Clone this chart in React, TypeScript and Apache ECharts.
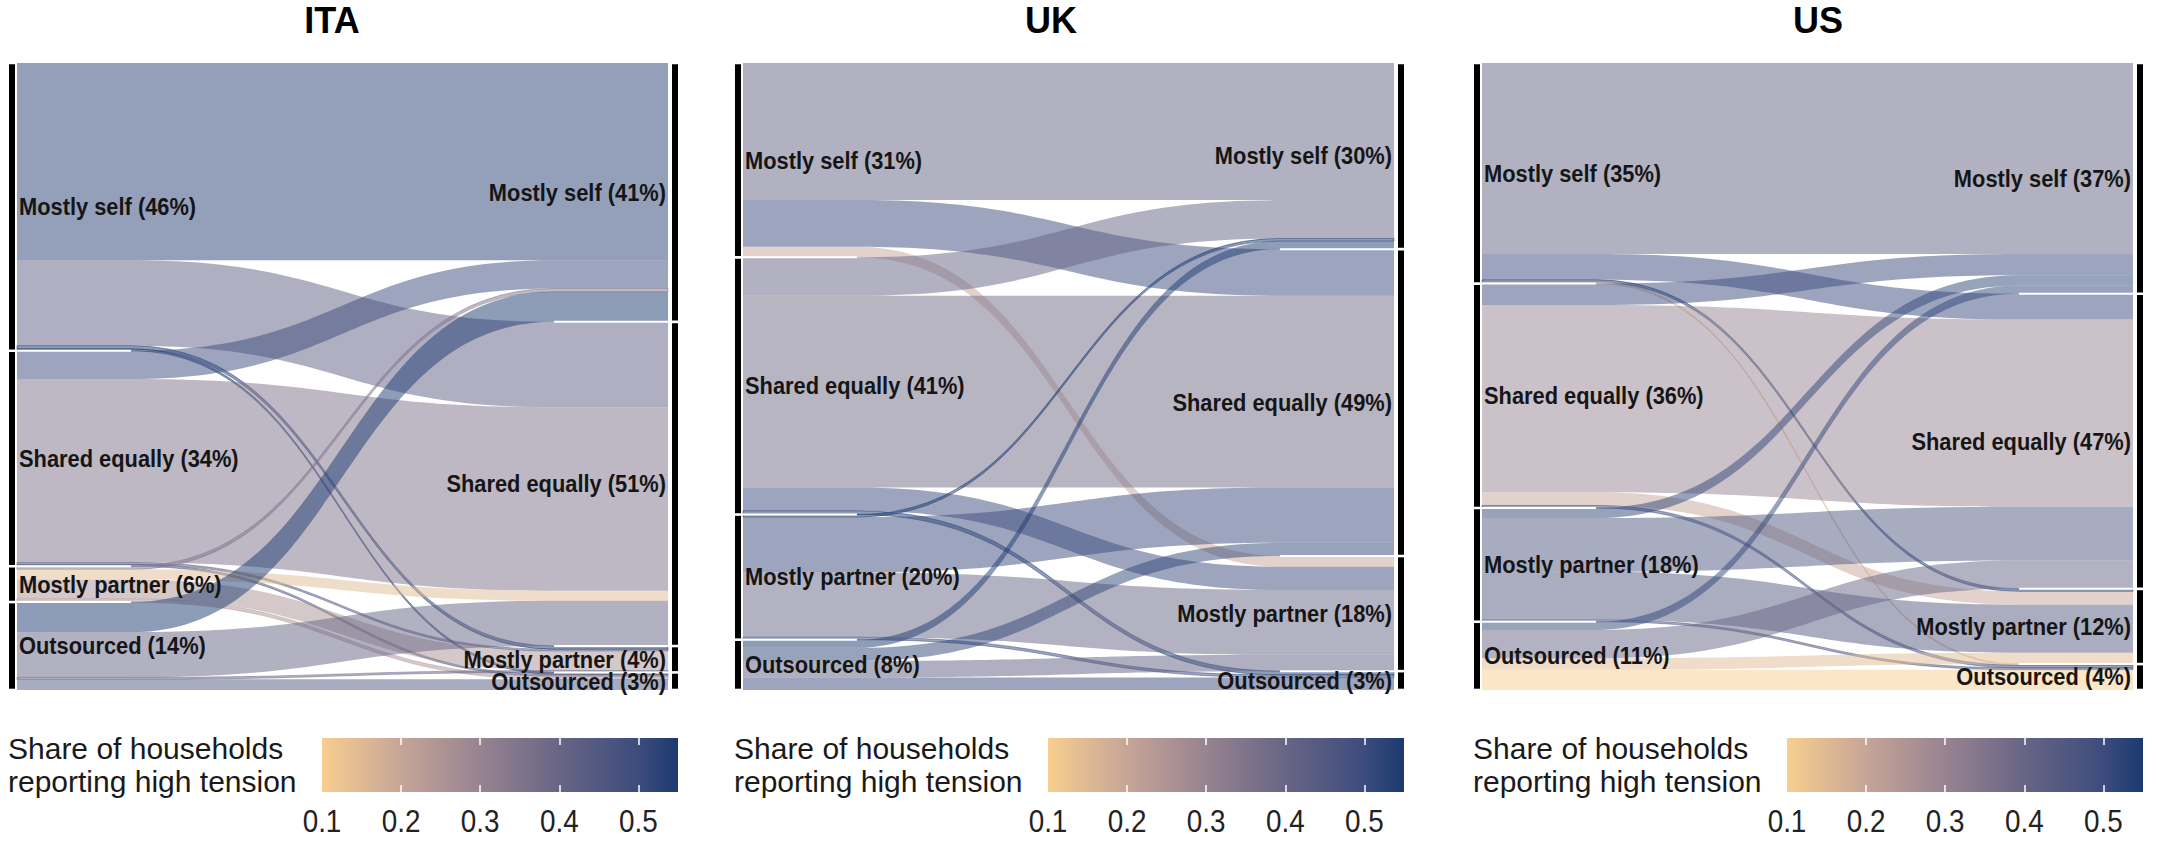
import React, { useEffect, useRef } from 'react';
import * as echarts from 'echarts';

// ---------------- data ----------------
const CATEGORIES = ['Mostly self', 'Shared equally', 'Mostly partner', 'Outsourced'];

// flows[i][j] : share (%) of households moving from category i (left) to category j (right)
const ITA_FLOWS = [
  [31.4, 13.6, 0.5, 0.3],
  [4.5, 29.2, 0.3, 0.3],
  [0.5, 1.6, 3.1, 0.5],
  [4.8, 7.2, 0.3, 1.7],
];
const ITA_TENSION = [
  [0.53, 0.42, 0.55, 0.55],
  [0.5, 0.36, 0.45, 0.45],
  [0.35, 0.15, 0.26, 0.25],
  [0.55, 0.41, 0.4, 0.45],
];
const ITA_LEFT_PCT = [46, 34, 6, 14];
const ITA_RIGHT_PCT = [41, 51, 4, 3];

const UK_FLOWS = [
  [21.8, 7.4, 1.7, 0],
  [6.1, 30.5, 3.7, 0.6],
  [0.4, 8.8, 10.3, 0.4],
  [1.3, 2.1, 2.6, 2.0],
];
const UK_TENSION = [
  [0.41, 0.5, 0.2, 0.2],
  [0.41, 0.38, 0.5, 0.55],
  [0.55, 0.5, 0.4, 0.5],
  [0.55, 0.52, 0.42, 0.5],
];
const UK_LEFT_PCT = [31, 41, 20, 8];
const UK_RIGHT_PCT = [30, 49, 18, 3];

const US_FLOWS = [
  [30.2, 4.1, 0.4, 0.2],
  [3.4, 29.6, 2.1, 0.4],
  [1.6, 8.5, 7.6, 0.3],
  [1.3, 4.5, 1.8, 3.2],
];
const US_TENSION = [
  [0.41, 0.5, 0.55, 0.15],
  [0.5, 0.3, 0.2, 0.5],
  [0.52, 0.45, 0.44, 0.45],
  [0.52, 0.4, 0.15, 0.1],
];
const US_LEFT_PCT = [35, 36, 18, 11];
const US_RIGHT_PCT = [37, 47, 12, 4];

const TENSION_STOPS = [0.1, 0.2, 0.3, 0.4, 0.5, 0.55];
const TENSION_COLORS = ['#F8CE8F', '#C6A597', '#978391', '#686585', '#3C4C7D', '#1C3A70'];
const LEGEND_LABELS = [0.1, 0.2, 0.3, 0.4, 0.5];
const LEGEND_TICKS = [0.2, 0.3, 0.4, 0.5];
const LEGEND_TITLE = 'Share of households\nreporting high tension';

const PANELS = [
  { name: 'ITA', flows: ITA_FLOWS, tension: ITA_TENSION, left: ITA_LEFT_PCT, right: ITA_RIGHT_PCT },
  { name: 'UK', flows: UK_FLOWS, tension: UK_TENSION, left: UK_LEFT_PCT, right: UK_RIGHT_PCT },
  { name: 'US', flows: US_FLOWS, tension: US_TENSION, left: US_LEFT_PCT, right: US_RIGHT_PCT },
];

// ---------------- layout / style ----------------
const W = 2157;
const H = 844;
const FONT = '"Liberation Sans", Arial, Helvetica, sans-serif';
const FLOW_LEFT = [17, 743, 1482];
const FLOW_W = 651;
const PLOT_TOP = 63;
const PLOT_H = 627;
const TITLE_X = [332, 1051, 1818];
const TITLE_Y = 20;
const FLAT = 0.175;
const LEG_TOP = 738;
const LEG_H = 54;
const LEG_W = 356;
const FLOW_ALPHA = 0.5;

function tensionColor(t: number): string {
  const s = TENSION_STOPS;
  if (t <= s[0]) return TENSION_COLORS[0];
  for (let k = 1; k < s.length; k++) {
    if (t <= s[k]) {
      const f = (t - s[k - 1]) / (s[k] - s[k - 1]);
      return echarts.color.lerp(f, [TENSION_COLORS[k - 1], TENSION_COLORS[k]]) as string;
    }
  }
  return TENSION_COLORS[s.length - 1];
}

function buildOption() {
  const grid: any[] = [];
  const xAxis: any[] = [];
  const yAxis: any[] = [];
  const series: any[] = [];
  const graphic: any[] = [];

  PANELS.forEach((p, k) => {
    const n = CATEGORIES.length;
    const rowSum = p.flows.map((r) => r.reduce((a, b) => a + b, 0));
    const colSum = CATEGORIES.map((_, j) => p.flows.reduce((a, r) => a + r[j], 0));
    const total = rowSum.reduce((a, b) => a + b, 0);
    const leftStart: number[] = [];
    const rightStart: number[] = [];
    let acc = 0;
    rowSum.forEach((s, i) => { leftStart[i] = acc; acc += s; });
    acc = 0;
    colSum.forEach((s, j) => { rightStart[j] = acc; acc += s; });

    const flowData: number[][] = [];
    const rightCursor = rightStart.slice();
    for (let i = 0; i < n; i++) {
      let off = leftStart[i];
      for (let j = 0; j < n; j++) {
        const v = p.flows[i][j];
        if (v > 0) flowData.push([i, j, v, p.tension[i][j], off, rightCursor[j]]);
        off += v;
        rightCursor[j] += v;
      }
    }
    const strataData: number[][] = [];
    for (let i = 0; i < n; i++) strataData.push([0, leftStart[i], leftStart[i] + rowSum[i], i, p.left[i]]);
    for (let j = 0; j < n; j++) strataData.push([1, rightStart[j], rightStart[j] + colSum[j], j, p.right[j]]);

    const gi = grid.length;
    grid.push({ left: FLOW_LEFT[k], top: PLOT_TOP, width: FLOW_W, height: PLOT_H });
    const xi = xAxis.length;
    xAxis.push({ type: 'value', gridIndex: gi, min: 0, max: 1, show: false });
    const yi = yAxis.length;
    yAxis.push({ type: 'value', gridIndex: gi, min: 0, max: total, inverse: true, show: false });

    series.push({
      type: 'custom',
      name: p.name + ' flows',
      xAxisIndex: xi,
      yAxisIndex: yi,
      z: 2,
      data: flowData,
      renderItem: (params: any, api: any) => {
        const v = api.value(2);
        const t = api.value(3);
        const y0 = api.value(4);
        const y1 = api.value(5);
        const xL = api.coord([0, 0])[0];
        const xR = api.coord([1, 0])[0];
        const xA = api.coord([FLAT, 0])[0];
        const xB = api.coord([1 - FLAT, 0])[0];
        const xm = (xA + xB) / 2;
        const a0 = api.coord([0, y0])[1];
        const a1 = api.coord([0, y0 + v])[1];
        const b0 = api.coord([0, y1])[1];
        const b1 = api.coord([0, y1 + v])[1];
        const d =
          `M${xL},${a0} L${xA},${a0} C${xm},${a0} ${xm},${b0} ${xB},${b0} L${xR},${b0} ` +
          `L${xR},${b1} L${xB},${b1} C${xm},${b1} ${xm},${a1} ${xA},${a1} L${xL},${a1} Z`;
        const c = tensionColor(t);
        const style: any = { fill: echarts.color.modifyAlpha(c, FLOW_ALPHA) };
        if (v < 1) {
          style.stroke = echarts.color.modifyAlpha(c, 0.55);
          style.lineWidth = 0.9;
        }
        return { type: 'path', shape: { pathData: d }, style };
      },
    });

    series.push({
      type: 'custom',
      name: p.name + ' strata',
      xAxisIndex: xi,
      yAxisIndex: yi,
      z: 3,
      data: strataData,
      renderItem: (params: any, api: any) => {
        const side = api.value(0);
        const top = api.value(1);
        const bot = api.value(2);
        const idx = api.value(3);
        const pct = api.value(4);
        const xL = api.coord([0, 0])[0];
        const xR = api.coord([1, 0])[0];
        const xA = api.coord([FLAT, 0])[0];
        const xB = api.coord([1 - FLAT, 0])[0];
        const yT = api.coord([0, top])[1];
        const yB = api.coord([0, bot])[1];
        const children: any[] = [];
        const barX = side === 0 ? xL - 8 : xR + 4;
        children.push({
          type: 'rect',
          shape: { x: barX, y: yT + 1.3, width: 6, height: Math.max(0, yB - yT - 2.6) },
          style: { fill: '#000' },
        });
        if (top > 0.001) {
          children.push({
            type: 'line',
            shape: side === 0 ? { x1: xL - 1, y1: yT, x2: xA, y2: yT } : { x1: xB, y1: yT, x2: xR + 1, y2: yT },
            style: { stroke: '#fff', lineWidth: 2 },
          });
        }
        const label = `${CATEGORIES[idx]} (${pct}%)`;
        children.push({
          type: 'text',
          x: side === 0 ? xL + 2 : xR - 2,
          y: (yT + yB) / 2,
          scaleX: 0.91,
          style: {
            text: label,
            align: side === 0 ? 'left' : 'right',
            textAlign: side === 0 ? 'left' : 'right',
            verticalAlign: 'middle',
            textVerticalAlign: 'middle',
            fontSize: 24,
            fontWeight: 'bold',
            fontFamily: FONT,
            fill: '#151515',
          },
        });
        return { type: 'group', children };
      },
    });

    // legend colour bar
    const lgi = grid.length;
    const barLeft = FLOW_LEFT[k] + 305;
    grid.push({ left: barLeft, top: LEG_TOP, width: LEG_W, height: LEG_H });
    const lxi = xAxis.length;
    const tickCommon = {
      show: true,
      inside: true,
      length: 7,
      lineStyle: { color: '#ffffff', width: 1.5 },
      customValues: LEGEND_TICKS,
    };
    xAxis.push({
      type: 'value',
      gridIndex: lgi,
      min: TENSION_STOPS[0],
      max: TENSION_STOPS[TENSION_STOPS.length - 1],
      position: 'bottom',
      z: 10,
      axisLine: { show: false },
      splitLine: { show: false },
      axisTick: tickCommon,
      axisLabel: { show: false },
    });
    xAxis.push({
      type: 'value',
      gridIndex: lgi,
      min: TENSION_STOPS[0],
      max: TENSION_STOPS[TENSION_STOPS.length - 1],
      position: 'top',
      z: 10,
      axisLine: { show: false },
      splitLine: { show: false },
      axisTick: tickCommon,
      axisLabel: { show: false },
    });
    const lyi = yAxis.length;
    yAxis.push({ type: 'value', gridIndex: lgi, min: 0, max: 1, show: false });
    const lo = TENSION_STOPS[0];
    const hi = TENSION_STOPS[TENSION_STOPS.length - 1];
    series.push({
      type: 'custom',
      name: p.name + ' legend',
      xAxisIndex: lxi,
      yAxisIndex: lyi,
      z: 1,
      data: [[lo, hi]],
      renderItem: (params: any, api: any) => {
        const p0 = api.coord([api.value(0), 0]);
        const p1 = api.coord([api.value(1), 1]);
        const stops = TENSION_STOPS.map((s, q) => ({ offset: (s - lo) / (hi - lo), color: TENSION_COLORS[q] }));
        return {
          type: 'rect',
          shape: { x: p0[0], y: p1[1], width: p1[0] - p0[0], height: p0[1] - p1[1] },
          style: { fill: new echarts.graphic.LinearGradient(0, 0, 1, 0, stops) },
        };
      },
    });
    // legend tick labels, placed through the legend axis
    series.push({
      type: 'custom',
      name: p.name + ' legend labels',
      xAxisIndex: lxi,
      yAxisIndex: lyi,
      z: 5,
      data: LEGEND_LABELS.map((v) => [v]),
      renderItem: (params: any, api: any) => {
        const v = api.value(0);
        const pt = api.coord([v, 0]);
        return {
          type: 'text',
          x: pt[0],
          y: pt[1] + 29,
          scaleX: 0.87,
          style: {
            text: v.toFixed(1),
            align: 'center',
            textAlign: 'center',
            verticalAlign: 'middle',
            textVerticalAlign: 'middle',
            fontSize: 32,
            fontFamily: FONT,
            fill: '#222',
          },
        };
      },
    });

    graphic.push({
      type: 'text',
      x: TITLE_X[k],
      y: TITLE_Y,
      style: {
        text: p.name,
        align: 'center',
        textAlign: 'center',
        verticalAlign: 'middle',
        textVerticalAlign: 'middle',
        fontSize: 36,
        fontWeight: 'bold',
        fontFamily: FONT,
        fill: '#000',
      },
    });
    graphic.push({
      type: 'text',
      x: FLOW_LEFT[k] - 9,
      y: LEG_TOP + LEG_H / 2,
      style: {
        text: LEGEND_TITLE,
        align: 'left',
        textAlign: 'left',
        verticalAlign: 'middle',
        textVerticalAlign: 'middle',
        fontSize: 30,
        lineHeight: 33,
        fontFamily: FONT,
        fill: '#1a1a1a',
      },
    });
  });

  return {
    animation: false,
    backgroundColor: '#ffffff',
    grid,
    xAxis,
    yAxis,
    series,
    graphic,
  };
}

export default function App() {
  const ref = useRef<HTMLDivElement>(null);
  useEffect(() => {
    document.body.style.margin = '0';
    if (!ref.current) return;
    const chart = echarts.init(ref.current, undefined, { renderer: 'svg', width: W, height: H });
    chart.setOption(buildOption() as any);
    return () => chart.dispose();
  }, []);
  return <div ref={ref} style={{ width: W, height: H }} />;
}
